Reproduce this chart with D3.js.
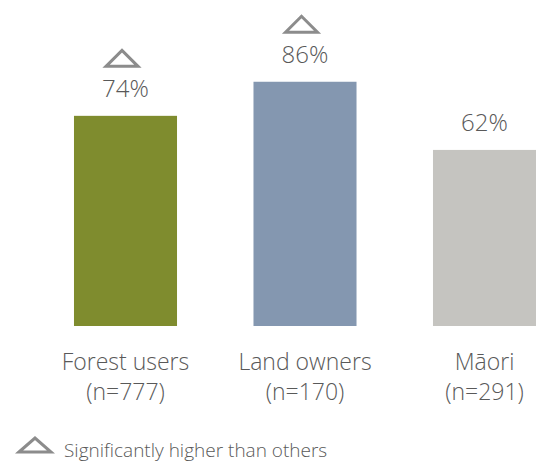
<!DOCTYPE html>
<html>
<head>
<meta charset="utf-8">
<script src="https://cdn.jsdelivr.net/npm/d3@7"></script>
<style>
html,body{margin:0;padding:0;background:#fff;}
svg{display:block;}
text{font-family:"Open Sans","Noto Sans",sans-serif;fill:#595959;}
</style>
</head>
<body>
<script>
const categories = ["Forest users", "Land owners", "Māori"];
const sampleSizes = ["(n=777)", "(n=170)", "(n=291)"];
const values = [74, 86, 62];
const significant = [true, true, false];
const colors = ["#7f8c2e", "#8497b0", "#c5c4c0"];
const legendLabel = "Significantly higher than others";

const W = 536, H = 463;
const svg = d3.select("body").append("svg").attr("width", W).attr("height", H);

const x = d3.scaleBand().domain(categories).range([35.75, 574.25])
  .paddingInner(0.426).paddingOuter(0.213);
const y = d3.scaleLinear().domain([0, 100]).range([326, 42]);

const g = svg.append("g");
g.selectAll("rect.bar").data(values).join("rect")
  .attr("class", "bar")
  .attr("x", (d, i) => x(categories[i]))
  .attr("y", d => y(d))
  .attr("width", x.bandwidth())
  .attr("height", d => y(0) - y(d))
  .attr("fill", (d, i) => colors[i]);

g.selectAll("text.val").data(values).join("text")
  .attr("class", "val")
  .attr("x", (d, i) => x(categories[i]) + x.bandwidth() / 2)
  .attr("y", d => y(d) - 19)
  .attr("text-anchor", "middle")
  .style("font-size", "24px").style("font-weight", 300)
  .text(d => d + "%");

function tri(sel, cx, by, w, h) {
  sel.append("path")
    .attr("d", `M${cx - w / 2},${by} L${cx},${by - h} L${cx + w / 2},${by} Z`)
    .attr("fill", "none").attr("stroke", "#8c8c8c").attr("stroke-width", 3)
    .attr("stroke-linejoin", "miter");
}
values.forEach((d, i) => {
  if (significant[i]) {
    tri(g, x(categories[i]) + x.bandwidth() / 2 - 3.5, y(d) - 49.5, 32, 16);
  }
});

const lab = g.selectAll("text.cat").data(categories).join("text")
  .attr("class", "cat")
  .attr("x", d => x(d) + x.bandwidth() / 2)
  .attr("text-anchor", "middle")
  .style("font-size", "23px").style("font-weight", 300);
lab.append("tspan").attr("x", d => x(d) + x.bandwidth() / 2).attr("y", 370).text(d => d);
lab.append("tspan").attr("x", d => x(d) + x.bandwidth() / 2).attr("y", 400)
  .text((d, i) => sampleSizes[i]);

tri(svg, 35, 452, 32, 14);
svg.append("text").attr("x", 64).attr("y", 457)
  .style("font-size", "19px").style("font-weight", 300)
  .text(legendLabel);
</script>
</body>
</html>
